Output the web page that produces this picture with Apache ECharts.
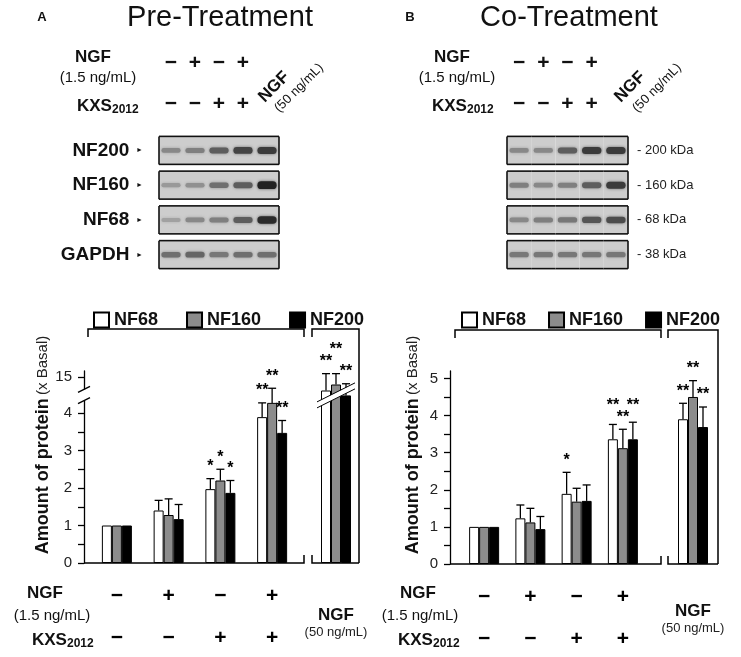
<!DOCTYPE html>
<html>
<head>
<meta charset="utf-8">
<script src="https://cdn.jsdelivr.net/npm/echarts@6/dist/echarts.min.js"></script>
<style>
html, body { margin: 0; padding: 0; background: #fff; }
#chart { width: 741px; height: 657px; }
</style>
</head>
<body>
<div id="chart"></div>
<script>
const FONT = 'Liberation Sans, Arial, Helvetica, sans-serif'

// treatment groups
const groupsLeft = ['Basal', 'NGF 1.5', 'KXS2012', 'NGF 1.5 + KXS2012']
const groupRight = ['NGF 50']
const ngfSigns = ['−', '+', '−', '+']
const kxsSigns = ['−', '−', '+', '+']
const proteins = ['NF68', 'NF160', 'NF200']
const barColors = ['#ffffff', '#8c8c8c', '#000000']

// A: pre-treatment, amount of protein (x basal); last group is drawn above the axis break
const preNF68 = [1, 1.4, 1.97, 3.89, 4.6]
const preNF160 = [1, 1.28, 2.2, 4.27, 4.76]
const preNF200 = [1, 1.17, 1.87, 3.47, 4.47]
const preNF68Sd = [0, 0.27, 0.28, 0.38, 0.45]
const preNF160Sd = [0, 0.43, 0.3, 0.39, 0.29]
const preNF200Sd = [0, 0.39, 0.33, 0.33, 0.31]
const preNF68Sig = ['', '', '*', '**', '**']
const preNF160Sig = ['', '', '*', '**', '**']
const preNF200Sig = ['', '', '*', '**', '**']
const preTicks = [0, 0.5, 1, 1.5, 2, 2.5, 3, 3.5, 4, 4.96]
const preLabels = [0, 1, 2, 3, 4, 4.96]
const preLabelText = ['0', '1', '2', '3', '4', '15']

// B: co-treatment
const coNF68 = [1, 1.23, 1.89, 3.36, 3.9]
const coNF160 = [1, 1.12, 1.68, 3.12, 4.5]
const coNF200 = [1, 0.94, 1.7, 3.36, 3.69]
const coNF68Sd = [0, 0.36, 0.58, 0.4, 0.43]
const coNF160Sd = [0, 0.38, 0.36, 0.51, 0.44]
const coNF200Sd = [0, 0.34, 0.43, 0.46, 0.54]
const coNF68Sig = ['', '', '*', '**', '**']
const coNF160Sig = ['', '', '', '**', '**']
const coNF200Sig = ['', '', '', '**', '**']
const coTicks = [0, 0.5, 1, 1.5, 2, 2.5, 3, 3.5, 4, 4.5, 5]
const coLabels = [0, 1, 2, 3, 4, 5]
const coLabelText = ['0', '1', '2', '3', '4', '5']

// western blots, band darkness 0..1 per lane
const lanes = ['1', '2', '3', '4', '5']
const preBlotRows = ['NF200', 'NF160', 'NF68', 'GAPDH']
const preBlot = [
  [0.35, 0.4, 0.6, 0.75, 0.8],
  [0.25, 0.3, 0.5, 0.6, 0.95],
  [0.2, 0.35, 0.4, 0.6, 0.9],
  [0.5, 0.55, 0.45, 0.5, 0.5]
]
const coBlotRows = ['- 200 kDa', '- 160 kDa', '- 68 kDa', '- 38 kDa']
const coBlot = [
  [0.35, 0.35, 0.6, 0.8, 0.8],
  [0.4, 0.35, 0.4, 0.6, 0.8],
  [0.35, 0.4, 0.45, 0.65, 0.7],
  [0.45, 0.45, 0.45, 0.45, 0.45]
]

const panels = [
  {
    means: [preNF68, preNF160, preNF200], sds: [preNF68Sd, preNF160Sd, preNF200Sd], sig: [preNF68Sig, preNF160Sig, preNF200Sig],
    ticks: preTicks, labels: preLabels, labelText: preLabelText, blot: preBlot, blotRows: preBlotRows,
    barLeft: 91, barWidth: 207, rightLeft: 314, rightWidth: 44, axisOffset: 7, top: 371, bottom: 94, max: 5.12,
    rightMargin: 43, blotLeft: 159, blotWidth: 120, rowSide: 'left', rowMargin: 16,
    frame: [88, 304, 312, 359], frameTop: 329, legendLeft: 88, legendGap: 28, broken: true,
    letter: ['A', 42], title: ['Pre-Treatment', 220], ngf: [93, 98, 77], rot: [274, 299],
    bottom3: [45, 52, 32], yName: 43
  },
  {
    means: [coNF68, coNF160, coNF200], sds: [coNF68Sd, coNF160Sd, coNF200Sd], sig: [coNF68Sig, coNF160Sig, coNF200Sig],
    ticks: coTicks, labels: coLabels, labelText: coLabelText, blot: coBlot, blotRows: coBlotRows,
    barLeft: 461, barWidth: 185, rightLeft: 671, rightWidth: 44, axisOffset: 11, top: 371, bottom: 93, max: 5.2,
    rightMargin: 38, blotLeft: 507, blotWidth: 121, rowSide: 'right', rowMargin: 9,
    frame: [455, 661, 668, 718], frameTop: 330, legendLeft: 456, legendGap: 22, broken: false,
    letter: ['B', 410], title: ['Co-Treatment', 569], ngf: [452, 457, 432], rot: [630, 657],
    bottom3: [418, 420, 398], yName: 413
  }
]

// stack significance marks so neighbouring ones do not overlap
function placeStars (p) {
  const unit = (657 - p.bottom - p.top) / p.max
  const gapV = 12 / unit
  const w = s => s.length * 7
  const pos = proteins.map(() => [])
  for (let i = 0; i < 5; i++) {
    const nat = proteins.map((n, k) => p.means[k][i] + p.sds[k][i])
    const order = [0, 1, 2].filter(k => p.sig[k][i]).sort((a, b) => nat[a] - nat[b])
    const placed = []
    order.forEach(k => {
      let y = nat[k]
      placed.forEach(j => {
        const hit = (w(p.sig[k][i]) + w(p.sig[j][i])) / 2 > Math.abs(k - j) * 10
        if (hit && Math.abs(pos[j][i] - y) < gapV) y = pos[j][i] + gapV
      })
      pos[k][i] = y
      placed.push(k)
    })
  }
  return pos
}

function errRender (means, sds, sig, starPos, dx) {
  return function (params, api) {
    const i = params.dataIndex
    const b = api.coord([i, means[i]])
    const t = api.coord([i, means[i] + sds[i]])
    const x = b[0] + dx
    const kids = []
    if (sds[i] > 0) {
      kids.push({ type: 'line', shape: { x1: x, y1: b[1], x2: x, y2: t[1] }, style: { stroke: '#000', lineWidth: 1.3 } })
      kids.push({ type: 'line', shape: { x1: x - 4, y1: t[1], x2: x + 4, y2: t[1] }, style: { stroke: '#000', lineWidth: 1.3 } })
    }
    if (sig[i]) {
      const s = api.coord([i, starPos[i]])
      kids.push({
        type: 'text', x: x, y: s[1] - 4,
        style: { text: sig[i], fontSize: 16, fontWeight: 'bold', fontFamily: FONT, fill: '#000', align: 'center', verticalAlign: 'bottom', textAlign: 'center', textVerticalAlign: 'bottom' }
      })
    }
    return { type: 'group', children: kids }
  }
}

function blotRender (params, api) {
  const lane = api.value(0)
  const v = api.value(2)
  const c = api.coord([lane, api.value(1)])
  const w = api.size([1, 0])[0]
  const h = 28
  const x0 = c[0] - w / 2
  const y0 = c[1] - h / 2
  const g = Math.round(195 - 170 * v)
  const bh = 3 + 5 * v
  const kids = [
    { type: 'rect', shape: { x: x0, y: y0, width: w, height: h }, style: { fill: '#cdcdcd' } },
    { type: 'rect', shape: { x: c[0] - w * 0.4, y: c[1] - bh / 2, width: w * 0.8, height: bh, r: bh / 2 }, style: { fill: 'rgb(' + g + ',' + g + ',' + g + ')', shadowBlur: 3, shadowColor: 'rgba(' + g + ',' + g + ',' + g + ',0.7)' } },
    { type: 'line', shape: { x1: x0, y1: y0, x2: x0 + w, y2: y0 }, style: { stroke: '#111', lineWidth: 1.6 } },
    { type: 'line', shape: { x1: x0, y1: y0 + h, x2: x0 + w, y2: y0 + h }, style: { stroke: '#111', lineWidth: 1.6 } }
  ]
  if (lane === 0) kids.push({ type: 'line', shape: { x1: x0, y1: y0, x2: x0, y2: y0 + h }, style: { stroke: '#111', lineWidth: 1.6 } })
  if (lane === 4) kids.push({ type: 'line', shape: { x1: x0 + w, y1: y0, x2: x0 + w, y2: y0 + h }, style: { stroke: '#111', lineWidth: 1.6 } })
  return { type: 'group', children: kids }
}

const grid = []
const xAxis = []
const yAxis = []
const series = []
const legend = []

panels.forEach((p, pi) => {
  const gi = pi * 3
  grid.push({ left: p.barLeft, width: p.barWidth, top: p.top, bottom: p.bottom })
  grid.push({ left: p.rightLeft, width: p.rightWidth, top: p.top, bottom: p.bottom })
  grid.push({ left: p.blotLeft, width: p.blotWidth, top: 133, height: 139 })

  xAxis.push({
    type: 'category', gridIndex: gi, data: groupsLeft,
    axisLine: { show: false }, axisTick: { show: false },
    axisLabel: {
      interval: 0, margin: 22,
      formatter: (v, i) => '{s|' + ngfSigns[i] + '}\n{g| }\n{s|' + kxsSigns[i] + '}',
      rich: {
        s: { fontSize: 21, fontWeight: 'bold', lineHeight: 22, fontFamily: FONT, color: '#000' },
        g: { fontSize: 10, lineHeight: 20 }
      }
    }
  })
  xAxis.push({
    type: 'category', gridIndex: gi + 1, data: groupRight,
    axisLine: { show: false }, axisTick: { show: false },
    axisLabel: {
      interval: 0, margin: p.rightMargin,
      formatter: () => '{n|NGF}\n{m|(50 ng/mL)}',
      rich: {
        n: { fontSize: 17, fontWeight: 'bold', lineHeight: 18, fontFamily: FONT, color: '#111' },
        m: { fontSize: 13, lineHeight: 16, fontFamily: FONT, color: '#222' }
      }
    }
  })
  xAxis.push({ type: 'category', gridIndex: gi + 2, data: lanes, show: false })

  yAxis.push({
    type: 'value', gridIndex: gi, min: 0, max: p.max, offset: p.axisOffset,
    axisLine: { show: true, lineStyle: { color: '#000', width: 1.3 } },
    axisTick: { show: true, length: 6, customValues: p.ticks, lineStyle: { color: '#000', width: 1.3 } },
    axisLabel: {
      customValues: p.labels, margin: 12, fontSize: 15, color: '#222', fontFamily: FONT,
      formatter: v => {
        let best = 0
        p.labels.forEach((l, li) => { if (Math.abs(l - v) < Math.abs(p.labels[best] - v)) best = li })
        return p.labelText[best]
      }
    },
    splitLine: { show: false }
  })
  yAxis.push({ type: 'value', gridIndex: gi + 1, min: 0, max: p.max, show: false, splitLine: { show: false } })
  yAxis.push({
    type: 'category', gridIndex: gi + 2, data: p.blotRows, inverse: true, position: p.rowSide,
    axisLine: { show: false }, axisTick: { show: false },
    axisLabel: pi === 0
      ? {
          margin: p.rowMargin, formatter: v => '{n|' + v + '}  {a|►}',
          rich: {
            n: { fontSize: 19, fontWeight: 'bold', fontFamily: FONT, color: '#111' },
            a: { fontSize: 7, color: '#111' }
          }
        }
      : { margin: p.rowMargin, fontSize: 13, fontFamily: FONT, color: '#222' }
  })

  proteins.forEach((name, k) => {
    const bar = { type: 'bar', name, barWidth: 10, barGap: '0%', z: 2, itemStyle: { color: barColors[k], borderColor: '#000', borderWidth: 1 } }
    series.push(Object.assign({}, bar, { xAxisIndex: gi, yAxisIndex: gi, data: p.means[k].slice(0, 4) }))
    series.push(Object.assign({}, bar, { xAxisIndex: gi + 1, yAxisIndex: gi + 1, data: p.means[k].slice(4) }))
  })
  const stars = placeStars(p)
  proteins.forEach((name, k) => {
    const m = p.means[k]
    const s = p.sds[k]
    const sg = p.sig[k]
    const sp = stars[k]
    series.push({
      type: 'custom', name, xAxisIndex: gi, yAxisIndex: gi, z: 4, silent: true,
      data: m.slice(0, 4).map((v, i) => [i, v + s[i]]),
      renderItem: errRender(m.slice(0, 4), s.slice(0, 4), sg.slice(0, 4), sp.slice(0, 4), (k - 1) * 10)
    })
    series.push({
      type: 'custom', name, xAxisIndex: gi + 1, yAxisIndex: gi + 1, z: 4, silent: true,
      data: m.slice(4).map((v, i) => [i, v + s[4 + i]]),
      renderItem: errRender(m.slice(4), s.slice(4), sg.slice(4), sp.slice(4), (k - 1) * 10)
    })
  })

  const blotData = []
  p.blot.forEach((row, ri) => row.forEach((v, li) => blotData.push([li, ri, v])))
  series.push({ type: 'custom', name: 'blot' + pi, xAxisIndex: gi + 2, yAxisIndex: gi + 2, silent: true, data: blotData, renderItem: blotRender })

  legend.push({
    left: p.legendLeft, top: 306, data: proteins, icon: 'rect', itemWidth: 15, itemHeight: 15,
    itemGap: p.legendGap, selectedMode: false,
    textStyle: { fontSize: 18, fontWeight: 'bold', fontFamily: FONT, color: '#111', padding: [2, 0, 0, 0] }
  })
})

const chart = echarts.init(document.getElementById('chart'))
chart.setOption({ animation: false, backgroundColor: '#fff', grid, xAxis, yAxis, series, legend })

// frames, axis break, headers
function txt (x, y, text, size, bold, extra) {
  return Object.assign({
    type: 'text', x, y, z: 50,
    style: {
      text, fontSize: size, fontWeight: bold ? 'bold' : 'normal', fontFamily: FONT, fill: '#111',
      align: 'center', verticalAlign: 'middle', textAlign: 'center', textVerticalAlign: 'middle'
    }
  }, extra || {})
}
function kxsLabel (x, y) {
  return [
    txt(x, y, 'KXS', 17, true, { style: { text: 'KXS', fontSize: 17, fontWeight: 'bold', fontFamily: FONT, fill: '#111', align: 'left', verticalAlign: 'middle', textAlign: 'left', textVerticalAlign: 'middle' } }),
    txt(x + 35, y + 4, '2012', 12, true, { style: { text: '2012', fontSize: 12, fontWeight: 'bold', fontFamily: FONT, fill: '#111', align: 'left', verticalAlign: 'middle', textAlign: 'left', textVerticalAlign: 'middle' } })
  ]
}
const line = pts => ({ type: 'polyline', z: 40, shape: { points: pts }, style: { stroke: '#000', lineWidth: 1.5, fill: null } })

const graphic = []
panels.forEach((p, pi) => {
  const gi = pi * 3
  const base = chart.convertToPixel({ yAxisIndex: gi }, 0)
  const ax = p.barLeft - p.axisOffset
  const [l, m1, m2, r] = p.frame
  const top = p.frameTop
  graphic.push(line([[l, top + 8], [l, top], [m1, top], [m1, top + 8]]))
  graphic.push(line([[m2, top + 8], [m2, top], [r, top], [r, base]]))
  graphic.push(line([[ax, base], [m1, base], [m1, base - 8]]))
  graphic.push(line([[m2, base - 8], [m2, base], [r, base]]))

  if (p.broken) {
    const y1 = chart.convertToPixel({ yAxisIndex: gi }, 4.33)
    const y2 = chart.convertToPixel({ yAxisIndex: gi }, 4.63)
    graphic.push({ type: 'rect', z: 45, shape: { x: ax - 7, y: y2, width: 14, height: y1 - y2 }, style: { fill: '#fff' } })
    graphic.push({ type: 'line', z: 46, shape: { x1: ax - 6, y1: y1 + 3, x2: ax + 6, y2: y1 - 3 }, style: { stroke: '#000', lineWidth: 1.4 } })
    graphic.push({ type: 'line', z: 46, shape: { x1: ax - 6, y1: y2 + 3, x2: ax + 6, y2: y2 - 3 }, style: { stroke: '#000', lineWidth: 1.4 } })
    const cx = p.rightLeft + p.rightWidth / 2
    const cy = chart.convertToPixel({ yAxisIndex: gi + 1 }, 4.47)
    const yAt = x => cy - 0.5 * (x - cx)
    const xl = cx - 19
    const xr = cx + 19
    graphic.push({ type: 'polygon', z: 45, shape: { points: [[xl, yAt(xl) - 3], [xr, yAt(xr) - 3], [xr, yAt(xr) + 3], [xl, yAt(xl) + 3]] }, style: { fill: '#fff' } })
    graphic.push({ type: 'line', z: 46, shape: { x1: xl, y1: yAt(xl) - 3, x2: xr, y2: yAt(xr) - 3 }, style: { stroke: '#000', lineWidth: 1 } })
    graphic.push({ type: 'line', z: 46, shape: { x1: xl, y1: yAt(xl) + 3, x2: xr, y2: yAt(xr) + 3 }, style: { stroke: '#000', lineWidth: 1 } })
  }

  // y axis title
  graphic.push({
    type: 'text', x: p.yName, y: 445, rotation: Math.PI / 2, z: 50,
    style: {
      text: '{a|Amount of protein} {b|(x Basal)}', align: 'center', verticalAlign: 'middle', textAlign: 'center', textVerticalAlign: 'middle',
      rich: {
        a: { fontSize: 18, fontWeight: 'bold', fontFamily: FONT, fill: '#111' },
        b: { fontSize: 15, fontFamily: FONT, fill: '#222' }
      }
    }
  })

  // header
  graphic.push(txt(p.letter[1], 17, p.letter[0], 13, true))
  graphic.push(txt(p.title[1], 18, p.title[0], 29, false))
  graphic.push(txt(p.ngf[0], 57, 'NGF', 17, true))
  graphic.push(txt(p.ngf[1], 78, '(1.5 ng/mL)', 15, false))
  kxsLabel(p.ngf[2], 106).forEach(g => graphic.push(g))
  ngfSigns.forEach((s, i) => {
    const x = chart.convertToPixel({ xAxisIndex: gi + 2 }, i)
    graphic.push(txt(x, 63, s, 21, true))
    graphic.push(txt(x, 104, kxsSigns[i], 21, true))
  })
  graphic.push(txt(p.rot[0], 87, 'NGF', 17, true, { rotation: Math.PI / 4 }))
  graphic.push(txt(p.rot[1], 88, '(50 ng/mL)', 13, false, { rotation: Math.PI / 4 }))

  // bottom row titles
  graphic.push(txt(p.bottom3[0], 593, 'NGF', 17, true))
  graphic.push(txt(p.bottom3[1], 616, '(1.5 ng/mL)', 15, false))
  kxsLabel(p.bottom3[2], 640).forEach(g => graphic.push(g))
})

chart.setOption({ graphic })
</script>
</body>
</html>
